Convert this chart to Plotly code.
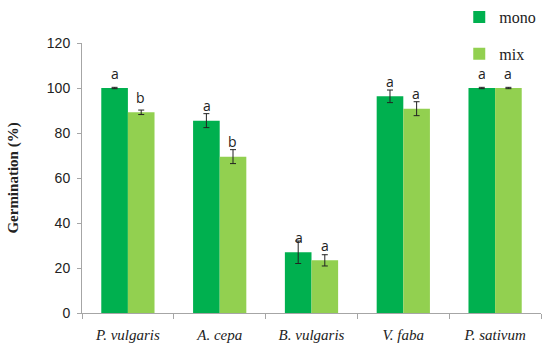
import plotly.graph_objects as go

categories = ["P. vulgaris", "A. cepa", "B. vulgaris", "V. faba", "P. sativum"]
mono = [100, 85.5, 27, 96.3, 100]
mono_err = [0.3, 3.1, 5, 2.8, 0.3]
mix = [89.2, 69.5, 23.4, 90.8, 100]
mix_err = [1, 3.1, 2.5, 3.1, 0.3]
mono_letters = ["a", "a", "a", "a", "a"]
mix_letters = ["b", "b", "a", "a", "a"]

DARK = "#00B04F"
LIGHT = "#92D050"

fig = go.Figure()
fig.add_trace(go.Bar(
    name="mono", x=categories, y=mono, marker_color=DARK, marker_line_width=0,
    legendgroup="mono",
    error_y=dict(type="data", array=mono_err, color="#222222", thickness=1, width=3),
))
fig.add_trace(go.Bar(
    name="mix", x=categories, y=mix, marker_color=LIGHT, marker_line_width=0,
    legendgroup="mix",
    error_y=dict(type="data", array=mix_err, color="#222222", thickness=1, width=3),
))

for cat, v, t in zip(categories, mono, mono_letters):
    fig.add_annotation(x=cat, y=v, text=t, showarrow=False, xshift=-13, yshift=15,
                       font=dict(family="Open Sans, Liberation Sans, sans-serif", size=14, color="#222222"))
for cat, v, t in zip(categories, mix, mix_letters):
    fig.add_annotation(x=cat, y=v, text=t, showarrow=False, xshift=13, yshift=15,
                       font=dict(family="Open Sans, Liberation Sans, sans-serif", size=14, color="#222222"))

fig.update_layout(
    width=550, height=352,
    margin=dict(l=82, r=9, t=43, b=39, autoexpand=False),
    paper_bgcolor="white", plot_bgcolor="white",
    barmode="group", bargap=0.42, bargroupgap=0,
    showlegend=True,
    legend=dict(x=0.835, y=1.0, xref="container", yref="container",
                xanchor="left", yanchor="top",
                font=dict(family="Liberation Serif, DejaVu Serif, serif", size=16, color="#222222"),
                tracegroupgap=13, itemwidth=30, bgcolor="rgba(0,0,0,0)"),
    xaxis=dict(
        automargin=False,
        showline=True, linecolor="#A6A6A6", linewidth=1,
        ticks="outside", tickson="boundaries", ticklen=5, tickcolor="#A6A6A6",
        ticklabelstandoff=8,
        tickfont=dict(family="Liberation Serif, DejaVu Serif, serif", size=15, color="#222222"),
        tickvals=categories,
        ticktext=["<i>" + c + "</i>" for c in categories],
        showgrid=False,
    ),
    yaxis=dict(
        automargin=False,
        range=[0, 120], dtick=20, showline=True, linecolor="#A6A6A6", linewidth=1,
        ticks="outside", ticklen=4, tickcolor="#A6A6A6",
        ticklabelstandoff=4,
        tickfont=dict(family="Liberation Sans, Open Sans, sans-serif", size=14, color="#222222"),
        showgrid=False, zeroline=False,
        title=dict(text="<b>Germination (%)</b>", standoff=24,
                   font=dict(family="Liberation Serif, DejaVu Serif, serif", size=15, color="#222222")),
    ),
)

fig.write_html("out.html", config={"displayModeBar": False},
               post_script="document.body.style.margin='0';")
